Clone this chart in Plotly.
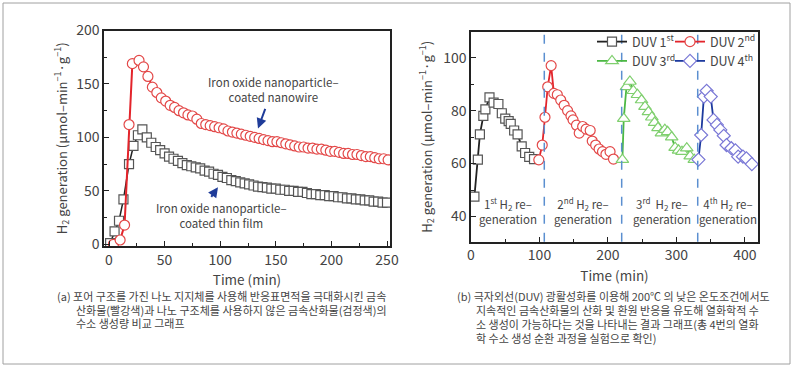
import plotly.graph_objects as go

# ---------------- data: left chart (a) ----------------
wire_t = [4, 10, 14, 18, 21, 27, 31, 35, 39, 43, 47, 51, 55, 59, 63, 67, 71, 75, 79, 83, 87, 91, 95, 99,
          103, 107, 111, 115, 119, 123, 127, 131, 135, 139, 143, 147, 151, 155, 159, 163, 167, 171, 175,
          179, 183, 187, 191, 195, 199, 203, 207, 211, 215, 219, 223, 227, 231, 235, 239, 243, 247, 251]
wire_v = [0, 4, 18, 112, 169, 172, 166, 157, 147, 142, 137, 134, 130, 128, 125, 123, 121, 120, 117, 113,
          112, 111, 110, 109, 108, 106, 105, 104, 103, 102, 101, 100, 99, 98, 97, 96, 96, 95, 94, 93, 92,
          91, 91, 90, 90, 89, 89, 88, 87, 87, 86, 85, 85, 84, 84, 83, 82, 82, 81, 80, 80, 79]

film_t = [1, 5, 9, 13, 18, 22, 26, 30, 34, 38, 42, 46, 50, 54, 58, 62, 66, 70, 74, 78, 82, 86, 90, 94, 98,
          102, 106, 110, 114, 118, 122, 126, 130, 134, 138, 142, 146, 150, 154, 158, 162, 166, 170, 174,
          178, 182, 186, 190, 194, 198, 202, 206, 210, 214, 218, 222, 226, 230, 234, 238, 242, 246, 250]
film_v = [1, 12, 22, 42, 75, 92, 102, 107.5, 100, 95, 91, 88, 85, 82, 80, 78, 76, 74, 73, 72, 71, 69, 68,
          66, 65, 63, 62, 60, 59, 58, 57, 56, 55, 54, 53.5, 53, 52, 52, 51, 51, 50, 50, 49, 49, 48, 47, 47,
          46, 46, 45, 45, 44, 44, 43, 43, 42, 42, 41, 41, 40, 40, 39, 39]

# ---------------- data: right chart (b) ----------------
duv1_t = [5, 10, 13, 18, 21, 27, 33, 40, 45, 50, 55, 58, 63, 68, 74, 79, 85, 92]
duv1_v = [47.5, 61.5, 71, 78, 80.5, 85, 83, 82.5, 79, 77, 76, 75, 72.5, 71, 66.5, 64, 62.5, 61.7]
duv2_t = [99, 104, 108, 112, 117, 121, 126, 131, 136, 141, 146, 149, 154, 158, 163, 168, 174, 177, 182,
          187, 192, 197, 203, 208]
duv2_v = [61.4, 67, 77.5, 89, 97, 86.5, 86, 84, 82, 80, 78, 76.5, 74.5, 71.5, 74, 73, 72.5, 68.5, 67,
          65.5, 64.5, 63.5, 64.5, 61.7]
duv3_t = [221, 223, 227, 232, 237, 243, 249, 254, 259, 264, 268, 273, 278, 283, 287, 293, 298, 303, 308,
          315, 320, 326]
duv3_v = [61.5, 77, 89, 91, 87.5, 86, 84, 81.5, 79.5, 77.5, 75.5, 73.5, 71.5, 72.8, 72, 70, 66, 65, 64.5,
          65.8, 62.8, 61.5]
duv4_t = [332, 336, 340, 344, 350, 354, 359, 364, 369, 373, 380, 386, 390, 397, 402, 410]
duv4_v = [61.5, 70.8, 85.3, 87.5, 85.3, 76.5, 74.6, 72.7, 70.5, 67, 65.8, 65, 62.6, 62.6, 62, 59.8]

cycle_bounds = [107, 220, 331]
cycle_label_t = [54, 163.5, 279, 375]
cycle_labels = ["1<sup>st</sup> H<sub>2</sub> re\u2013<br>generation",
                "2<sup>nd</sup> H<sub>2</sub> re\u2013<br>generation",
                "3<sup>rd</sup>  H<sub>2</sub> re\u2013<br>generation",
                "4<sup>th</sup> H<sub>2</sub> re\u2013<br>generation"]

left_xticks = [0, 50, 100, 150, 200, 250]
left_yticks = [0, 50, 100, 150, 200]
right_xticks = [0, 100, 200, 300, 400]
right_yticks = [40, 60, 80, 100]

caption_a = ["(a) 포어 구조를 가진 나노 지지체를 사용해 반응표면적을 극대화시킨 금속",
             "산화물(빨강색)과 나노 구조체를 사용하지 않은 금속산화물(검정색)의",
             "수소 생성량 비교 그래프"]
caption_b = ["(b) 극자외선(DUV) 광활성화를 이용해 200℃ 의 낮은 온도조건에서도",
             "지속적인 금속산화물의 산화 및 환원 반응을 유도해 열화학적 수",
             "소 생성이 가능하다는 것을 나타내는 결과 그래프(총 4번의 열화",
             "학 수소 생성 순환 과정을 실험으로 확인)"]

FONT = "Noto Sans CJK KR, Noto Sans, sans-serif"
TXT = "#444444"
W, H = 794, 367

fig = go.Figure()

# left chart traces
fig.add_trace(go.Scatter(x=film_t, y=film_v, mode="lines+markers", xaxis="x", yaxis="y",
                         line=dict(color="#222222", width=1.5),
                         marker=dict(symbol="square", size=9, color="white",
                                     line=dict(color="#555555", width=1.2)),
                         showlegend=False))
fig.add_trace(go.Scatter(x=wire_t, y=wire_v, mode="lines+markers", xaxis="x", yaxis="y",
                         line=dict(color="#e3242b", width=2),
                         marker=dict(symbol="circle", size=10, color="white",
                                     line=dict(color="#e34848", width=1.2)),
                         showlegend=False))

# right chart traces
series = [
    (duv1_t, duv1_v, "DUV 1<sup>st</sup>", "#222222", "#555555", "square", 9, "legend"),
    (duv2_t, duv2_v, "DUV 2<sup>nd</sup>", "#e3242b", "#e34848", "circle", 10, "legend2"),
    (duv3_t, duv3_v, "DUV 3<sup>rd</sup>", "#4cb844", "#7fcf6e", "triangle-up", 11, "legend"),
    (duv4_t, duv4_v, "DUV 4<sup>th</sup>", "#1d3a9e", "#7a78d6", "diamond", 10, "legend2"),
]
for t, v, name, lc, mc, sym, sz, lg in series:
    fig.add_trace(go.Scatter(x=t, y=v, mode="lines+markers", xaxis="x2", yaxis="y2", name=name,
                             line=dict(color=lc, width=1.8),
                             marker=dict(symbol=sym, size=sz, color="white", line=dict(color=mc, width=1.2)),
                             legend=lg))

shapes = []
for b in cycle_bounds:
    shapes.append(dict(type="line", xref="x2", yref="y2 domain", x0=b, x1=b, y0=0, y1=1,
                       line=dict(color="#5b8fd0", width=1.5, dash="dash")))
# outer frame
shapes.append(dict(type="rect", xref="paper", yref="paper", x0=3 / W, x1=790 / W, y0=1 - 364 / H, y1=1 - 3 / H,
                   line=dict(color="#a0a0a0", width=1), fillcolor="rgba(0,0,0,0)", layer="below"))

ann = []
# left chart labels and arrows
ann.append(dict(x=147.5, y=144.4, xref="x", yref="y", text="Iron oxide nanoparticle\u2013<br>coated nanowire",
                showarrow=False, font=dict(size=11.5, color=TXT, family=FONT)))
ann.append(dict(x=101.6, y=26.6, xref="x", yref="y", text="Iron oxide nanoparticle\u2013<br>coated thin film",
                showarrow=False, font=dict(size=11.5, color=TXT, family=FONT)))
ann.append(dict(x=134, y=108.4, ax=141, ay=128, xref="x", yref="y", axref="x", ayref="y", text="",
                showarrow=True, arrowhead=2, arrowsize=1, arrowwidth=2, arrowcolor="#1f3c99"))
ann.append(dict(x=98, y=53.3, ax=91, ay=43, xref="x", yref="y", axref="x", ayref="y", text="",
                showarrow=True, arrowhead=2, arrowsize=1, arrowwidth=2, arrowcolor="#1f3c99"))
# right chart cycle labels
for t, lab in zip(cycle_label_t, cycle_labels):
    ann.append(dict(x=t, y=42.2, xref="x2", yref="y2", text=lab, showarrow=False,
                    font=dict(size=11.5, color=TXT, family=FONT)))
# captions
for i, line in enumerate(caption_a):
    ann.append(dict(x=(55 if i == 0 else 74) / W, y=1 - (296 + i * 13.7) / H, xref="paper", yref="paper",
                    text=line, showarrow=False, xanchor="left", yanchor="middle",
                    font=dict(size=11, color=TXT, family=FONT)))
for i, line in enumerate(caption_b):
    ann.append(dict(x=(455 if i == 0 else 474) / W, y=1 - (296 + i * 14) / H, xref="paper", yref="paper",
                    text=line, showarrow=False, xanchor="left", yanchor="middle",
                    font=dict(size=11, color=TXT, family=FONT)))

axis_common = dict(showline=True, mirror=True, linecolor="#222222", linewidth=1.5, ticks="inside",
                   ticklen=5, tickwidth=1, tickcolor="#222222", showgrid=False, zeroline=False,
                   automargin=False, tickfont=dict(size=14, color=TXT, family=FONT))
ytitle = "H<sub>2</sub> generation (\u03bcmol\u2013min<sup>\u22121</sup>\u00b7g<sup>\u22121</sup>)"

fig.update_layout(
    width=W, height=H, margin=dict(l=0, r=0, t=0, b=0, autoexpand=False),
    paper_bgcolor="white", plot_bgcolor="white",
    font=dict(family=FONT, color=TXT),
    xaxis=dict(domain=[104 / W, 390 / W], range=[-4.5, 252.7], tickvals=left_xticks,
               minor=dict(ticks="inside", ticklen=3, dtick=25, tick0=0, tickcolor="#222222"),
               title=dict(text="Time (min)", font=dict(size=13.5, color=TXT, family=FONT), standoff=8),
               anchor="y", **axis_common),
    yaxis=dict(domain=[1 - 246 / H, 1 - 30.5 / H], range=[-1.6, 200], tickvals=left_yticks,
               minor=dict(ticks="inside", ticklen=3, dtick=25, tick0=0, tickcolor="#222222"),
               title=dict(text=ytitle, font=dict(size=13, color=TXT, family=FONT), standoff=6),
               anchor="x", **axis_common),
    xaxis2=dict(domain=[471 / W, 758 / W], range=[0, 419], tickvals=right_xticks,
                minor=dict(ticks="inside", ticklen=3, dtick=50, tick0=0, tickcolor="#222222"),
                title=dict(text="Time (min)", font=dict(size=13.5, color=TXT, family=FONT), standoff=8),
                anchor="y2", **axis_common),
    yaxis2=dict(domain=[1 - 241.7 / H, 1 - 31.7 / H], range=[30.5, 109.8], tickvals=right_yticks,
                minor=dict(ticks="inside", ticklen=3, dtick=10, tick0=0, tickcolor="#222222"),
                title=dict(text=ytitle, font=dict(size=13, color=TXT, family=FONT), standoff=8),
                anchor="x2", **axis_common),
    legend=dict(x=592 / W, y=1 - 27 / H, xanchor="left", yanchor="top", bgcolor="rgba(0,0,0,0)",
                font=dict(size=12.5, color=TXT, family=FONT), itemwidth=30, tracegroupgap=0),
    legend2=dict(x=670 / W, y=1 - 27 / H, xanchor="left", yanchor="top", bgcolor="rgba(0,0,0,0)",
                 font=dict(size=12.5, color=TXT, family=FONT), itemwidth=30, tracegroupgap=0),
    shapes=shapes, annotations=ann,
)

fig.write_html("out.html", config={"displayModeBar": False},
               post_script="document.body.style.margin='0';")
